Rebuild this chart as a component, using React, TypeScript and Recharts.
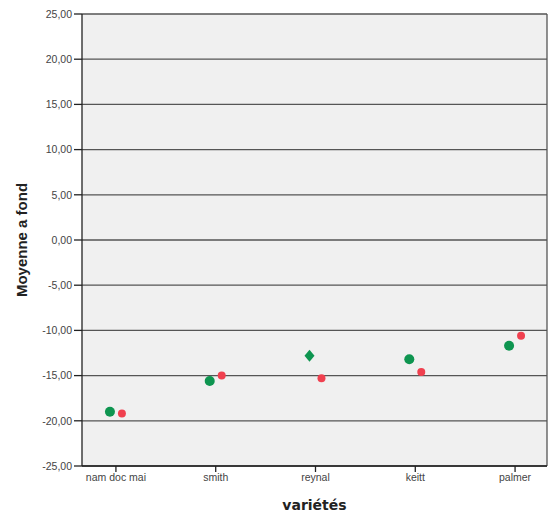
import * as React from "react"
import { ScatterChart, Scatter, XAxis, YAxis, CartesianGrid, ReferenceLine } from 'recharts';

// categories and mean values
const varietes: string[] = ["nam doc mai", "smith", "reynal", "keitt", "palmer"];
const moyenneVert: number[] = [-19.0, -15.6, -12.8, -13.2, -11.7];
const moyenneRouge: number[] = [-19.2, -15.0, -15.3, -14.6, -10.6];
const yTicks: number[] = [-25, -20, -15, -10, -5, 0, 5, 10, 15, 20, 25];

const OFFSET = 0.06;

const vertData = varietes.map((name, i) => ({ x: i - OFFSET, y: moyenneVert[i], name }));
const rougeData = varietes.map((name, i) => ({ x: i + OFFSET, y: moyenneRouge[i], name }));

const GreenShape = (props: any) => {
    const { cx, cy, payload } = props;
    if (payload && payload.name === "reynal") {
        const r = 6;
        return <polygon points={`${cx},${cy - r} ${cx + r - 1},${cy} ${cx},${cy + r} ${cx - r + 1},${cy}`} fill="#0e9550" />;
    }
    return <circle cx={cx} cy={cy} r={5} fill="#0e9550" />;
};

const RedShape = (props: any) => {
    const { cx, cy } = props;
    return <circle cx={cx} cy={cy} r={4} fill="#f0404f" />;
};

const fmt = (v: number) => v.toFixed(2).replace('.', ',');

export default function App() {
    return (
        <div style={{ position: 'absolute', left: 0, top: 0, width: 550, height: 518, background: '#fff', fontFamily: 'Arial, "Liberation Sans", sans-serif' }}>
            <ScatterChart width={550} height={518} margin={{ top: 14, right: 3, bottom: 0, left: 0 }}>
                <CartesianGrid vertical={false} fill="#f0f0f0" stroke="#555" strokeWidth={1.3} />
                <XAxis
                    type="number"
                    dataKey="x"
                    domain={[-0.34, 4.32]}
                    ticks={[0, 1, 2, 3, 4]}
                    tickFormatter={(v: number) => varietes[Math.round(v)] ?? ''}
                    height={52}
                    stroke="#222"
                    strokeWidth={1.3}
                    tickSize={6}
                    tick={{ fill: '#444', fontSize: 10.5 }}
                    label={{ value: 'variétés', position: 'insideBottom', offset: 8, fill: '#222', fontSize: 14, fontWeight: 'bold', fontFamily: '"DejaVu Sans", sans-serif' }}
                    allowDataOverflow
                />
                <YAxis
                    type="number"
                    dataKey="y"
                    domain={[-25, 25]}
                    ticks={yTicks}
                    tickFormatter={fmt}
                    width={82}
                    stroke="#222"
                    strokeWidth={1.3}
                    tickSize={8}
                    tick={{ fill: '#444', fontSize: 10.5 }}
                    label={{ value: 'Moyenne a fond', angle: -90, position: 'insideLeft', offset: 22, fill: '#222', fontSize: 15, fontWeight: 'bold', style: { textAnchor: 'middle' } }}
                    allowDataOverflow
                />
                <ReferenceLine x={4.32} stroke="#555" strokeWidth={1.3} />
                <Scatter data={vertData} shape={GreenShape} isAnimationActive={false} />
                <Scatter data={rougeData} shape={RedShape} isAnimationActive={false} />
            </ScatterChart>
        </div>
    );
}
